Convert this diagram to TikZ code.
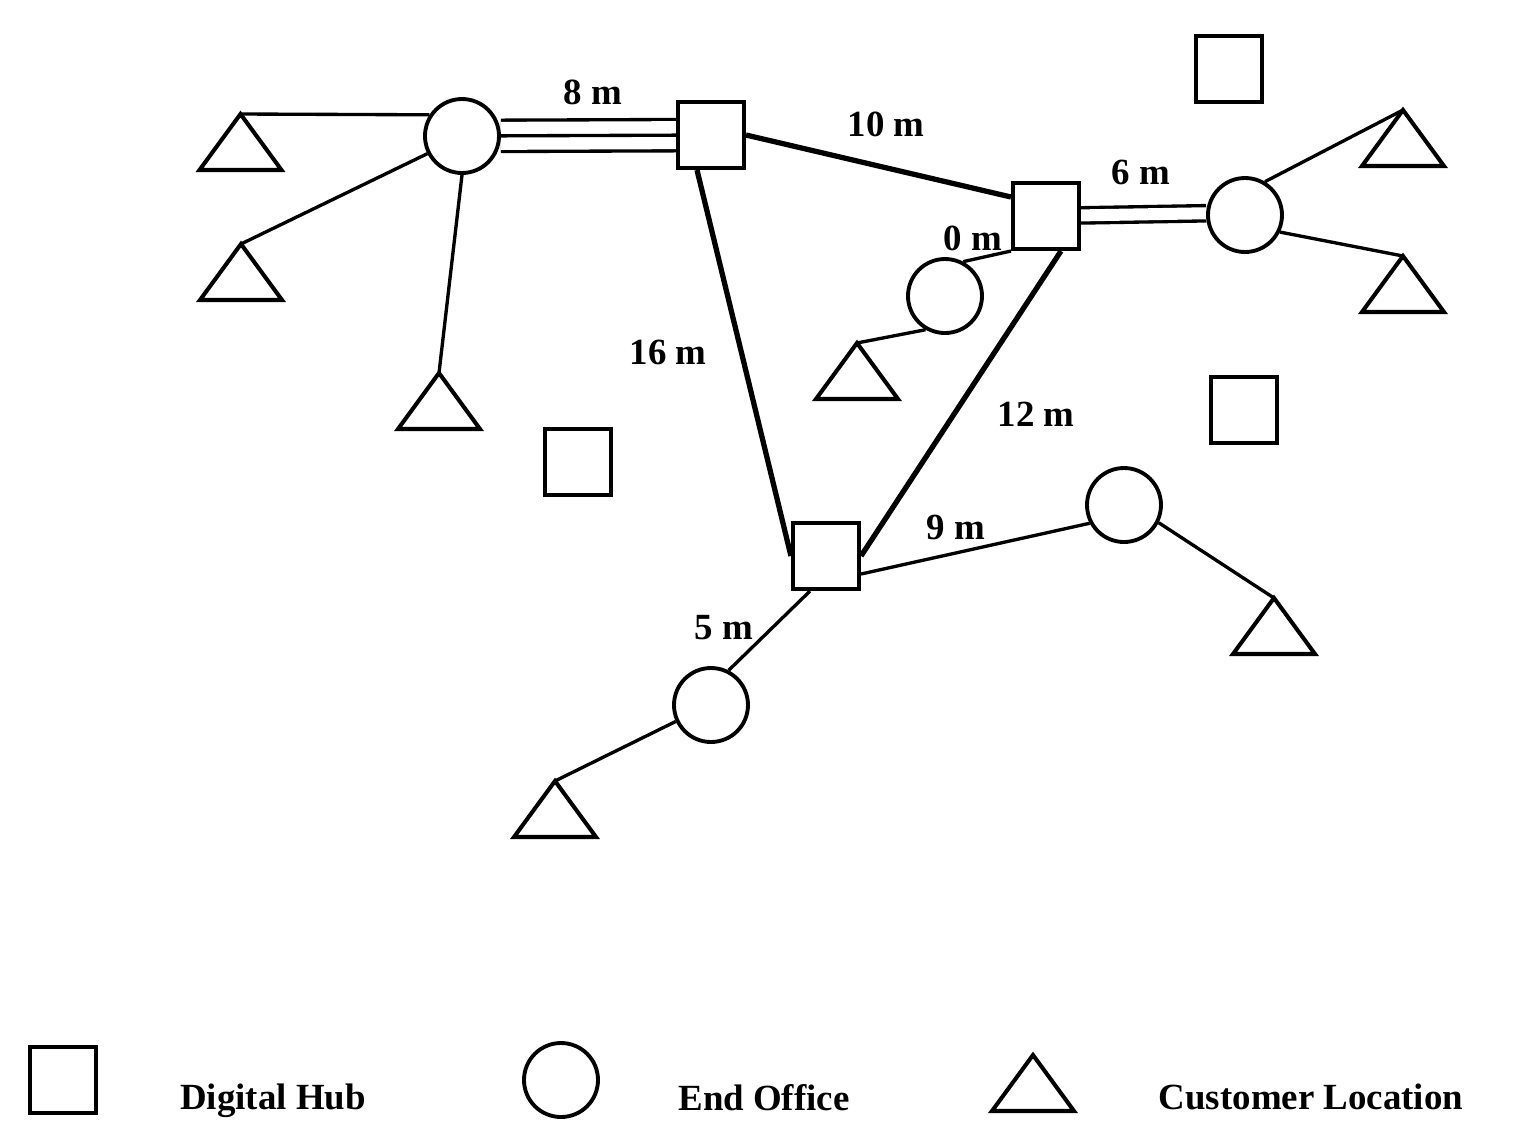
\documentclass[tikz,border=0pt]{standalone}
\usepackage{fontspec}
\setmainfont{Liberation Serif}
\usetikzlibrary{backgrounds}
\tikzset{
  hub/.style={draw, fill=white, line width=1.15pt, minimum size=0.66cm, inner sep=0pt},
  office/.style={draw, circle, fill=white, line width=1.1pt, minimum size=0.74cm, inner sep=0pt},
  link/.style={line width=0.95pt},
  trunk/.style={line width=1.5pt},
  dist/.style={font=\bfseries\fontsize{10.5}{12}\selectfont, inner sep=1pt},
}
\newcommand\custloc[2]{%
  \coordinate (#1) at #2;
  \draw [line width=1.15pt] (#1) -- ++(-0.41,-0.56) -- ++(0.82,0) -- cycle;}
\begin{document}
\begin{tikzpicture}
  \useasboundingbox (0,0) rectangle (15.4,-11.48);
  % digital hubs
  \node [hub] (h1) at (7.11,-1.35) {};
  \node [hub] (h2) at (10.46,-2.16) {};
  \node [hub] (h3) at (8.26,-5.56) {};
  \node [hub] (h4) at (12.29,-0.69) {};
  \node [hub] (h5) at (12.44,-4.10) {};
  \node [hub] (h6) at (5.78,-4.62) {};
  % end offices
  \node [office] (e1) at (4.62,-1.36) {};
  \node [office] (e2) at (12.45,-2.15) {};
  \node [office] (e3) at (9.45,-2.96) {};
  \node [office] (e4) at (11.24,-5.05) {};
  \node [office] (e5) at (7.11,-7.05) {};
  % customer locations
  \custloc{t1}{(2.405,-1.14)}
  \custloc{t2}{(2.41,-2.44)}
  \custloc{t3}{(4.39,-3.73)}
  \custloc{t4}{(8.57,-3.43)}
  \custloc{t5}{(14.03,-1.10)}
  \custloc{t6}{(14.03,-2.56)}
  \custloc{t7}{(12.74,-5.98)}
  \custloc{t8}{(5.55,-7.81)}
  % links
  \begin{scope}[on background layer]
    \draw [link] (e1.147) -- (t1);
    \draw [link] (e1.207) -- (t2);
    \draw [link] (e1.south) -- (t3);
    \draw [link, double, double distance=2.8mm] (e1) -- (h1);
    \draw [link] (e1) -- (h1);
    \draw [trunk] (h1.east) -- ([yshift=1.9mm]h2.west);
    \draw [trunk] ([xshift=-1.4mm]h1.south) -- (h3.west);
    \draw [trunk] ([xshift=1.5mm]h2.south) -- (h3.east);
    \draw [link, double, double distance=1.2mm] ([yshift=1mm]h2) -- ([yshift=1mm]e2);
    \draw [link] (h2.south west) -- (e3.62);
    \draw [link] (e3.240) -- (t4);
    \draw [link] (e2.59) -- (t5);
    \draw [link] (e2.334) -- (t6);
    \draw [link] ([yshift=-1.8mm]h3.east) -- (e4.208);
    \draw [link] (e4.333) -- (t7);
    \draw [link] ([xshift=-1.6mm]h3.south) -- (e5.63);
    \draw [link] (e5.205) -- (t8);
  \end{scope}
  % distances
  \node [dist] (d8) at (5.93,-0.92) {8 m};
  \node [dist] (d10) at (8.86,-1.24) {10 m};
  \node [dist] (d6) at (11.41,-1.72) {6 m};
  \node [dist] (d0) at (9.73,-2.38) {0 m};
  \node [dist] (d16) at (6.68,-3.52) {16 m};
  \node [dist] (d12) at (10.36,-4.14) {12 m};
  \node [dist] (d9) at (9.56,-5.27) {9 m};
  \node [dist] (d5) at (7.24,-6.28) {5 m};
  % legend
  \node [hub] (lhub) at (0.63,-10.80) {};
  \node [dist] (lhubtxt) at (2.73,-11.01) {Digital Hub};
  \node [office] (loff) at (5.61,-10.80) {};
  \node [dist] (lofftxt) at (7.64,-10.98) {End Office};
  \custloc{lcust}{(10.33,-10.55)}
  \node [dist] (lcusttxt) at (13.11,-10.97) {Customer Location};
\end{tikzpicture}
\end{document}
